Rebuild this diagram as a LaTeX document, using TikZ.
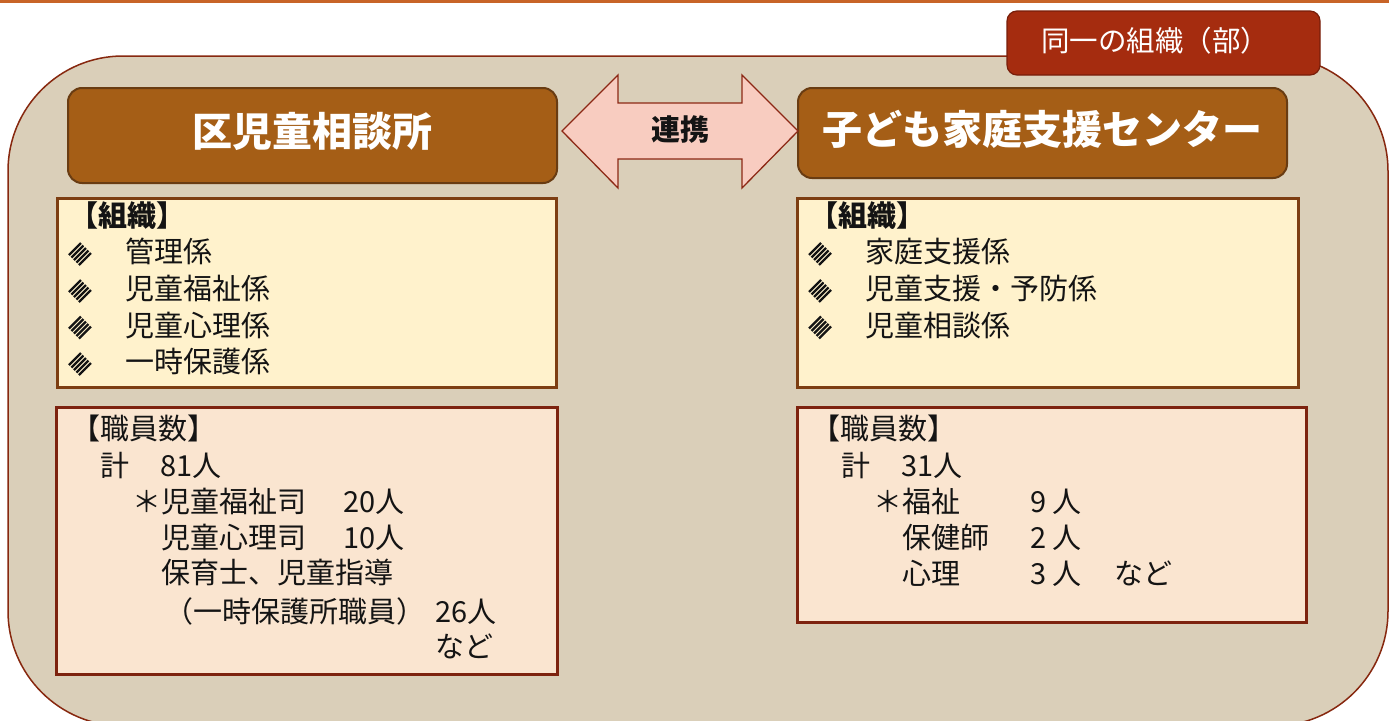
\documentclass[tikz,border=0pt]{standalone}
\usepackage{fontspec}
\setmainfont{Noto Sans CJK JP}
\definecolor{topline}{RGB}{200,100,40}
\definecolor{outerfill}{RGB}{218,207,185}
\definecolor{outerline}{RGB}{135,40,15}
\definecolor{hdrfill}{RGB}{165,94,22}
\definecolor{hdrline}{RGB}{105,60,18}
\definecolor{tabfill}{RGB}{165,44,15}
\definecolor{tabline}{RGB}{120,30,10}
\definecolor{arrfill}{RGB}{248,204,192}
\definecolor{arrline}{RGB}{140,40,20}
\definecolor{orgfill}{RGB}{255,242,204}
\definecolor{orgline}{RGB}{125,62,18}
\definecolor{stafffill}{RGB}{250,229,208}
\definecolor{staffline}{RGB}{125,35,15}
\definecolor{ink}{RGB}{20,20,20}
\newcommand\hatchbullet[2]{%
  \begin{scope}[shift={(#1,#2)}]
    \clip (-12,0)--(0,-12)--(12,0)--(0,12)--cycle;
    \foreach \k in {-10,-5,0,5,10}{\draw[ink,line width=2.3] (\k-20,20)--(\k+20,-20);}
  \end{scope}}
\begin{document}
\begin{tikzpicture}[x=1pt,y=-1pt,
  hdrbox/.style={draw=hdrline,line width=2,fill=hdrfill,rounded corners=14,inner sep=0},
  hdrtxt/.style={inner sep=0,text=white,font=\fontsize{40}{42}\selectfont\bfseries,text height=35pt,text depth=5pt},
  tabbox/.style={draw=tabline,line width=1.2,fill=tabfill,rounded corners=10,inner sep=0},
  orgbox/.style={draw=orgline,line width=3,fill=orgfill},
  staffbox/.style={draw=staffline,line width=3,fill=stafffill},
  txt/.style={anchor=west,inner sep=0,text=ink,font=\fontsize{29}{31}\selectfont,text height=25.5pt,text depth=3.5pt},
  btxt/.style={txt,font=\fontsize{29}{31}\selectfont\bfseries}]
\useasboundingbox (0,0) rectangle (1389,720);
\clip (0,0) rectangle (1389,720);
% top rule
\fill[topline] (0,0) rectangle (1389,2.5);
% outer container
\draw[fill=outerfill,draw=outerline,line width=1.5,rounded corners=115] (8,56) rectangle (1388,726);
% tab
\node[tabbox,minimum width=313,minimum height=64] (tab) at (1163.5,43) {};
\node[inner sep=0,text=white,font=\fontsize{28.5}{30}\selectfont,text height=25pt,text depth=3.5pt] (tabl) at (1155,41) {同一の組織（部）};
% headers
\node[hdrbox,minimum width=489,minimum height=95] (hl) at (312.5,135.5) {};
\node[hdrtxt] (hlt) at (312,131) {区児童相談所};
\node[hdrbox,minimum width=489,minimum height=90] (hr) at (1042.5,133) {};
\node[hdrtxt] (hrt) at (1042,129) {子ども家庭支援センター};
% double arrow
\draw[fill=arrfill,draw=arrline,line width=1.3,line join=miter]
  (562,131)--(618,75)--(618,103)--(742,103)--(742,75)--(798,131)--(742,188)--(742,159)--(618,159)--(618,188)--cycle;
\node[inner sep=0,text=ink,font=\fontsize{29}{30}\selectfont\bfseries,text height=25.5pt,text depth=3.5pt] (link) at (680,129) {連携};
% organisation boxes
\draw[orgbox] (57,198) rectangle (556,387);
\draw[orgbox] (797,198) rectangle (1298,387);
% staff boxes
\draw[staffbox] (56,407) rectangle (557,674);
\draw[staffbox] (797,407) rectangle (1306,622);
% left organisation text
\node[btxt] (lo0) at (69,215) {【組織】};
\node[txt] (lo1) at (125,251) {管理係};
\node[txt] (lo2) at (125,288.5) {児童福祉係};
\node[txt] (lo3) at (125,325) {児童心理係};
\node[txt] (lo4) at (125,361) {一時保護係};
\hatchbullet{80}{254}
\hatchbullet{80}{291}
\hatchbullet{80}{327.5}
\hatchbullet{80}{364}
% right organisation text
\node[btxt] (ro0) at (809,215) {【組織】};
\node[txt] (ro1) at (865,251) {家庭支援係};
\node[txt] (ro2) at (865,288.5) {児童支援・予防係};
\node[txt] (ro3) at (865,325) {児童相談係};
\hatchbullet{820}{254}
\hatchbullet{820}{291}
\hatchbullet{820}{327.5}
% left staff text
\node[txt] (ls0) at (71,428) {【職員数】};
\node[txt] (ls1) at (100,465) {計};
\node[txt] (ls1n) at (160,465) {81人};
\node[txt] (ls2) at (132,501) {＊児童福祉司};
\node[txt] (ls2n) at (343,501) {20人};
\node[txt] (ls3) at (161,537) {児童心理司};
\node[txt] (ls3n) at (343,537) {10人};
\node[txt] (ls4) at (161,572) {保育士、児童指導};
\node[txt] (ls5) at (164,611) {（一時保護所職員）};
\node[txt] (ls5n) at (435,611) {26人};
\node[txt] (ls6) at (435,646) {など};
% right staff text
\node[txt] (rs0) at (811,428) {【職員数】};
\node[txt] (rs1) at (841,465) {計};
\node[txt] (rs1n) at (901,465) {31人};
\node[txt] (rs2) at (873,501) {＊福祉};
\node[txt] (rs2n) at (1030,501) {9 人};
\node[txt] (rs3) at (902,537) {保健師};
\node[txt] (rs3n) at (1030,537) {2 人};
\node[txt] (rs4) at (902,573) {心理};
\node[txt] (rs4n) at (1030,573) {3 人};
\node[txt] (rs4x) at (1114,573) {など};
\end{tikzpicture}
\end{document}
